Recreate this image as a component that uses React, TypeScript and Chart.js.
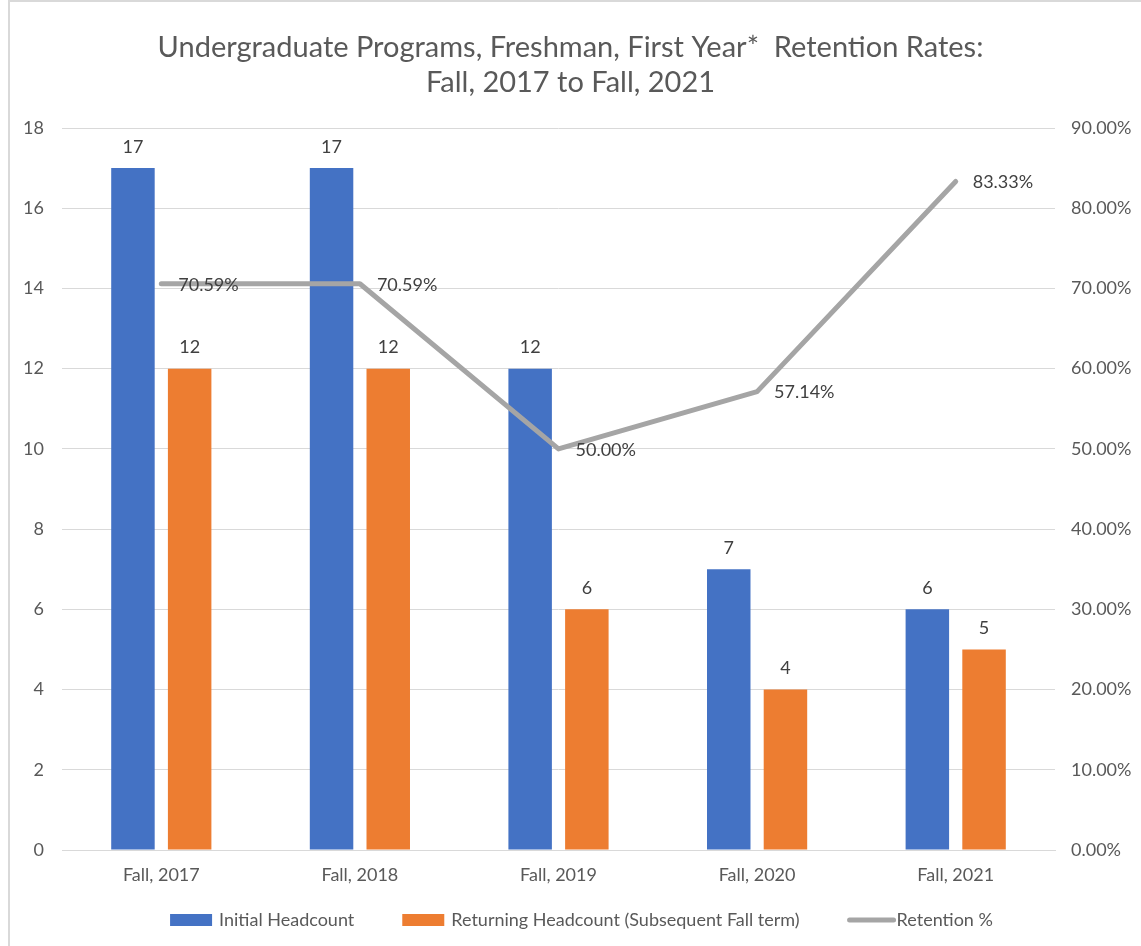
import React, { useEffect, useRef } from "react";
import { Chart, registerables } from "chart.js";

Chart.register(...registerables);

const FONT = "Lato, 'Open Sans', sans-serif";

const titleLines = [
  "Undergraduate Programs, Freshman, First Year*  Retention Rates:",
  "Fall, 2017 to Fall, 2021",
];
const categories = ["Fall, 2017", "Fall, 2018", "Fall, 2019", "Fall, 2020", "Fall, 2021"];
const initialHeadcount = [17, 17, 12, 7, 6];
const returningHeadcount = [12, 12, 6, 4, 5];
const retentionPct = [70.59, 70.59, 50.0, 57.14, 83.33];
const seriesNames = [
  "Initial Headcount",
  "Returning Headcount (Subsequent Fall term)",
  "Retention %",
];
const seriesColors = ["#4472C4", "#ED7D31", "#A5A5A5"];

const TEXT_SIZE = 18;

const dataLabelsPlugin = {
  id: "dataLabels",
  afterDatasetsDraw(chart: any) {
    const ctx = chart.ctx;
    ctx.save();
    ctx.font = `${TEXT_SIZE}px ${FONT}`;
    ctx.fillStyle = "#404040";
    ctx.textBaseline = "middle";
    chart.data.datasets.forEach((ds: any, i: number) => {
      const meta = chart.getDatasetMeta(i);
      meta.data.forEach((el: any, j: number) => {
        const v = ds.data[j];
        if (ds.type === "line") {
          ctx.textAlign = "left";
          ctx.fillText(Number(v).toFixed(2) + "%", el.x + 17, el.y + 1);
        } else {
          ctx.textAlign = "center";
          ctx.fillText(String(v), el.x, el.y - 21);
        }
      });
    });
    ctx.restore();
  },
};

const legendPlugin = {
  id: "customLegend",
  afterDraw(chart: any) {
    const ctx = chart.ctx;
    ctx.save();
    ctx.font = `${TEXT_SIZE}px ${FONT}`;
    ctx.textBaseline = "middle";
    ctx.textAlign = "left";
    const boxW = 42;
    const boxH = 12;
    const lineW = 48;
    const gapText = 7;
    const gapItem = 48;
    const kinds = ["box", "box", "line"];
    const widths = seriesNames.map((name, i) => {
      const tw = ctx.measureText(name).width;
      return kinds[i] === "box" ? boxW + gapText + tw : lineW + 1 + tw;
    });
    const total = widths.reduce((a, b) => a + b, 0) + gapItem * (widths.length - 1);
    let x = chart.width / 2 + 11 - total / 2;
    const y = 920;
    seriesNames.forEach((name, i) => {
      if (kinds[i] === "box") {
        ctx.fillStyle = seriesColors[i];
        ctx.fillRect(x, y - boxH / 2, boxW, boxH);
        ctx.fillStyle = "#595959";
        ctx.fillText(name, x + boxW + gapText, y);
      } else {
        ctx.strokeStyle = seriesColors[i];
        ctx.lineWidth = 5;
        ctx.lineCap = "round";
        ctx.beginPath();
        ctx.moveTo(x + 2, y);
        ctx.lineTo(x + lineW - 2, y);
        ctx.stroke();
        ctx.fillStyle = "#595959";
        ctx.fillText(name, x + lineW + 1, y);
      }
      x += widths[i] + gapItem;
    });
    ctx.restore();
  },
};

export default function App() {
  const canvasRef = useRef<HTMLCanvasElement | null>(null);

  useEffect(() => {
    document.body.style.margin = "0";
    const canvas = canvasRef.current;
    if (!canvas) return;
    const tickFont = { family: FONT, size: TEXT_SIZE };
    const chart = new Chart(canvas, {
      type: "bar",
      data: {
        labels: categories,
        datasets: [
          {
            type: "line",
            label: seriesNames[2],
            data: retentionPct,
            yAxisID: "y1",
            borderColor: seriesColors[2],
            backgroundColor: seriesColors[2],
            borderWidth: 5,
            borderCapStyle: "round",
            borderJoinStyle: "round",
            pointRadius: 0,
            tension: 0,
            order: 0,
          } as any,
          {
            type: "bar",
            label: seriesNames[0],
            data: initialHeadcount,
            yAxisID: "y",
            backgroundColor: seriesColors[0],
            categoryPercentage: 0.571,
            barPercentage: 0.767,
            order: 1,
          },
          {
            type: "bar",
            label: seriesNames[1],
            data: returningHeadcount,
            yAxisID: "y",
            backgroundColor: seriesColors[1],
            categoryPercentage: 0.571,
            barPercentage: 0.767,
            order: 2,
          },
        ],
      },
      options: {
        responsive: false,
        animation: false,
        layout: { padding: { left: 0, right: 0, top: 0, bottom: 60 } },
        plugins: {
          legend: { display: false },
          tooltip: { enabled: false },
          title: {
            display: true,
            text: titleLines,
            color: "#595959",
            font: { family: FONT, size: 29, weight: "normal", lineHeight: 35 / 29 },
            padding: { top: 30, bottom: 28 },
          },
        },
        scales: {
          x: {
            grid: { display: false, drawTicks: false },
            border: { display: true, color: "#d9d9d9", width: 1 },
            ticks: { color: "#595959", font: tickFont, padding: 14 },
            afterFit(s: any) {
              s.height = 36;
            },
          },
          y: {
            position: "left",
            min: 0,
            max: 18,
            ticks: { stepSize: 2, padding: 18, color: "#595959", font: tickFont },
            grid: { color: "#d9d9d9", drawTicks: false },
            border: { display: false },
            afterFit(s: any) {
              s.width = 62;
            },
          },
          y1: {
            position: "right",
            min: 0,
            max: 90,
            ticks: {
              stepSize: 10,
              padding: 16,
              color: "#595959",
              font: tickFont,
              callback: (v: any) => Number(v).toFixed(2) + "%",
            },
            grid: { display: false, drawTicks: false },
            border: { display: false },
            afterFit(s: any) {
              s.width = 86;
            },
          },
        },
      } as any,
      plugins: [dataLabelsPlugin, legendPlugin],
    });
    return () => chart.destroy();
  }, []);

  return (
    <div style={{ position: "relative", width: 1141, height: 946, background: "#fff" }}>
      <canvas ref={canvasRef} width={1141} height={946} style={{ position: "absolute", left: 0, top: 0 }} />
      <div
        style={{
          position: "absolute",
          left: 8,
          top: 0,
          right: 0,
          bottom: 0,
          borderLeft: "2px solid #d9d9d9",
          borderTop: "2px solid #d9d9d9",
          pointerEvents: "none",
        }}
      />
    </div>
  );
}
